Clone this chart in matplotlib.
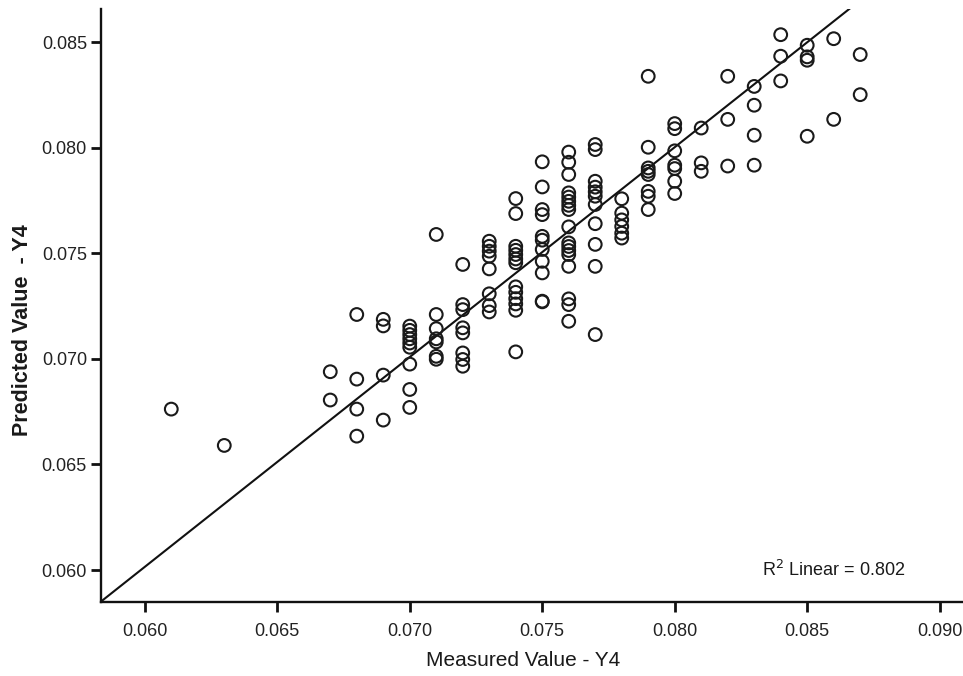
import matplotlib
matplotlib.use("Agg")
import matplotlib.pyplot as plt

plt.rcParams['font.family'] = ['Liberation Sans', 'DejaVu Sans']

# Measured values (x) and predicted values (y), grouped by measured level
m_061 = [0.06762]
m_063 = [0.0659]
m_067 = [0.06939, 0.06805]
m_068 = [0.0721, 0.06904, 0.06762, 0.06634]
m_069 = [0.07187, 0.07156, 0.06923, 0.0671]
m_070 = [0.07155, 0.07135, 0.07115, 0.07095, 0.07075, 0.07055, 0.06975, 0.06855, 0.0677]
m_071 = [0.07589, 0.0721, 0.07143, 0.07095, 0.0708, 0.07012, 0.06998]
m_072 = [0.07447, 0.07257, 0.07233, 0.07147, 0.07123, 0.07028, 0.06997, 0.06965]
m_073 = [0.07557, 0.07533, 0.0751, 0.07486, 0.07426, 0.07308, 0.07252, 0.07222]
m_074 = [0.07759, 0.07688, 0.07533, 0.07514, 0.07494, 0.07473, 0.07455, 0.07341,
         0.07315, 0.07285, 0.0726, 0.0723, 0.07033]
m_075 = [0.07933, 0.07814, 0.07707, 0.07683, 0.0758, 0.07562, 0.07518, 0.07462,
         0.07407, 0.07273, 0.0727]
m_076 = [0.07979, 0.07931, 0.07873, 0.07786, 0.07766, 0.07746, 0.07727, 0.07707,
         0.07625, 0.07549, 0.07532, 0.07513, 0.07494, 0.07438, 0.07284, 0.07257, 0.07178]
m_077 = [0.08015, 0.07991, 0.07841, 0.07813, 0.07791, 0.0777, 0.07731, 0.0764,
         0.07542, 0.07438, 0.07115]
m_078 = [0.07758, 0.0769, 0.07658, 0.07627, 0.07595, 0.07572]
m_079 = [0.08338, 0.08002, 0.07904, 0.07888, 0.07873, 0.07793, 0.0777, 0.07707]
m_080 = [0.08114, 0.0809, 0.07985, 0.07917, 0.07901, 0.07841, 0.07783]
m_081 = [0.08093, 0.07928, 0.07888]
m_082 = [0.08338, 0.08134, 0.07913]
m_083 = [0.0829, 0.08201, 0.08059, 0.07917]
m_084 = [0.08535, 0.08433, 0.08316]
m_085 = [0.08485, 0.0843, 0.08414, 0.08054]
m_086 = [0.08516, 0.08134]
m_087 = [0.08441, 0.08251]

measured_levels = [0.061, 0.063, 0.067, 0.068, 0.069, 0.070, 0.071, 0.072, 0.073,
                   0.074, 0.075, 0.076, 0.077, 0.078, 0.079, 0.080, 0.081, 0.082,
                   0.083, 0.084, 0.085, 0.086, 0.087]
predicted_groups = [m_061, m_063, m_067, m_068, m_069, m_070, m_071, m_072, m_073,
                    m_074, m_075, m_076, m_077, m_078, m_079, m_080, m_081, m_082,
                    m_083, m_084, m_085, m_086, m_087]

# Fit line end points
fit_x = [0.05834, 0.08659]
fit_y = [0.0585, 0.08657]

x_ticks = [0.060, 0.065, 0.070, 0.075, 0.080, 0.085, 0.090]
y_ticks = [0.060, 0.065, 0.070, 0.075, 0.080, 0.085]
r2_text = "R$^2$ Linear = 0.802"

xs, ys = [], []
for lvl, grp in zip(measured_levels, predicted_groups):
    for v in grp:
        xs.append(lvl)
        ys.append(v)

W, H = 963, 676
fig = plt.figure(figsize=(W / 100, H / 100), dpi=100)
left = 100.8 / W
bottom = (H - 601.7) / H
top = (H - 8.5) / H
ax = fig.add_axes([left, bottom, 1.0 - left, top - bottom])

ax.plot(fit_x, fit_y, color='#111111', linewidth=1.5, zorder=2)
ax.scatter(xs, ys, s=84, facecolors='none', edgecolors='#1a1a1a', linewidths=1.5, zorder=3)

ax.set_xlim(0.05834, 0.09088)
ax.set_ylim(0.0585, 0.08659)
ax.set_xticks(x_ticks)
ax.set_yticks(y_ticks)
ax.set_xticklabels([f"{t:.3f}" for t in x_ticks])
ax.set_yticklabels([f"{t:.3f}" for t in y_ticks])

for s in ['top', 'right']:
    ax.spines[s].set_visible(False)
for s in ['left', 'bottom']:
    ax.spines[s].set_linewidth(1.7)
    ax.spines[s].set_color('#111111')

ax.tick_params(axis='both', direction='out', length=7, width=2, color='#111111',
               labelsize=13, labelcolor='#222222')
ax.tick_params(axis='x', pad=8)
ax.tick_params(axis='y', pad=3)

ax.set_xlabel("Measured Value - Y4", fontsize=15, color='#1a1a1a')
ax.set_ylabel("Predicted Value  - Y4", fontsize=15.5, fontweight='bold', color='#1a1a1a')
ax.xaxis.set_label_coords((523 - 100.8) / 862.2, -(660 - 601.7) / 593.2)
ax.yaxis.set_label_coords((22 - 100.8) / 862.2, (601.7 - 330) / 593.2)
ax.xaxis.label.set_va('center')
ax.yaxis.label.set_va('center')

ax.text(0.08869, 0.0600, r2_text, fontsize=13, ha='right', va='center', color='#1a1a1a')

fig.savefig("out.png", dpi=100)
